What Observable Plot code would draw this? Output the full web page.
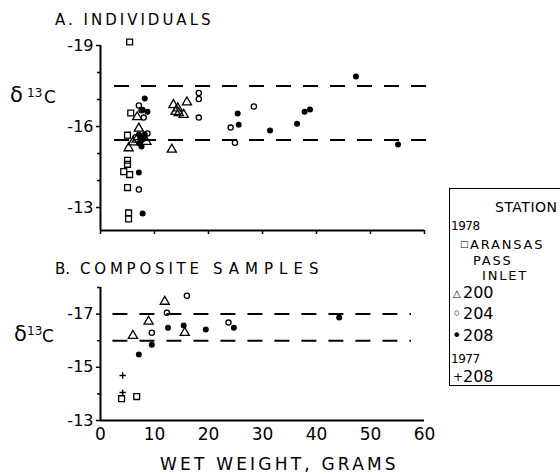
<!DOCTYPE html>
<html><head><meta charset="utf-8">
<script src="https://cdn.jsdelivr.net/npm/d3@7"></script>
<script src="https://cdn.jsdelivr.net/npm/@observablehq/plot@0.6"></script>
<style>
body{margin:0;background:#fff;}
#wrap{position:relative;width:560px;height:474px;overflow:hidden;font-family:"DejaVu Sans",sans-serif;color:#000;background:#fff;}
.t{position:absolute;white-space:nowrap;line-height:1;}
#pa,#pb{position:absolute;left:0;}
#pa{top:0}#pb{top:240px}
#box{position:absolute;left:449px;top:188px;width:130px;height:196px;border:1px solid #000;}
</style></head><body>
<div id="wrap">
<div id="pa"></div><div id="pb"></div>
<div class="t" style="left:55px;top:13px;font-size:15px;letter-spacing:3px">A.&nbsp;INDIVIDUALS</div>
<div class="t" style="left:55px;top:262px;font-size:15px;">B.</div>
<div class="t" style="left:80px;top:262px;font-size:15px;letter-spacing:3.8px">COMPOSITE</div>
<div class="t" style="left:213px;top:262px;font-size:15px;letter-spacing:6px">SAMPLES</div>
<div class="t" style="left:160px;top:456px;font-size:17px;letter-spacing:3.2px">WET WEIGHT, GRAMS</div>
<div class="t" style="left:10px;top:85px;font-size:21px">δ</div>
<div class="t" style="left:27px;top:87px;font-size:12px">13</div>
<div class="t" style="left:44px;top:89px;font-size:17px">C</div>
<div class="t" style="left:14px;top:324px;font-size:21px">δ</div>
<div class="t" style="left:27px;top:325px;font-size:12px">13</div>
<div class="t" style="left:42px;top:328px;font-size:17px">C</div>
<div id="box"></div>
<div class="t" style="left:495px;top:200px;font-size:14px;letter-spacing:0.5px">STATION</div>
<div class="t" style="left:451px;top:220px;font-size:12px;letter-spacing:-0.5px">1978</div>
<div class="t" style="left:460px;top:240px;font-size:9px">□</div>
<div class="t" style="left:470px;top:238px;font-size:13px;letter-spacing:1.8px">ARANSAS</div>
<div class="t" style="left:473px;top:254px;font-size:13px;letter-spacing:1.8px">PASS</div>
<div class="t" style="left:482px;top:269px;font-size:13px;letter-spacing:1.8px">INLET</div>
<div class="t" style="left:453px;top:289px;font-size:10px">△</div>
<div class="t" style="left:463px;top:285px;font-size:16px">200</div>
<div class="t" style="left:452px;top:306px;font-size:16px">◦</div>
<div class="t" style="left:463px;top:306px;font-size:16px">204</div>
<div class="t" style="left:452px;top:328px;font-size:16px">•</div>
<div class="t" style="left:463px;top:328px;font-size:16px">208</div>
<div class="t" style="left:451px;top:353px;font-size:12px;letter-spacing:-0.5px">1977</div>
<div class="t" style="left:453px;top:371px;font-size:12px">+</div>
<div class="t" style="left:463px;top:369px;font-size:16px">208</div>
</div>
<script>
// ---- Panel A: individuals  [wet weight g, d13C]
const aAransas = [[5.4,-19.13],[5.6,-16.5],[5.0,-15.68],[5.0,-14.75],[5.0,-14.6],[4.3,-14.33],[5.4,-14.22],[5.0,-13.74],[5.2,-12.8],[5.2,-12.58]];
const aSt200 = [[6.8,-16.35],[7.1,-15.93],[6.7,-15.52],[8.5,-15.44],[6.0,-15.42],[5.2,-15.2],[13.5,-16.8],[14.3,-16.68],[13.9,-16.55],[14.5,-16.5],[15.4,-16.44],[16.0,-16.9],[13.2,-15.15]];
const aSt204 = [[7.1,-16.78],[7.6,-16.6],[8.0,-16.33],[8.7,-15.74],[6.5,-15.6],[7.1,-13.67],[18.2,-17.24],[18.2,-17.02],[18.2,-16.33],[24.1,-15.96],[28.4,-16.74],[24.9,-15.4]];
const aSt208 = [[8.2,-17.04],[8.7,-16.55],[7.8,-16.62],[7.1,-15.7],[7.6,-15.63],[8.2,-15.7],[7.4,-15.48],[8.0,-15.55],[7.6,-15.26],[7.2,-15.37],[7.1,-14.3],[7.8,-12.78],[25.4,-16.48],[25.6,-16.07],[31.4,-15.85],[36.4,-16.1],[37.8,-16.55],[38.8,-16.63],[47.3,-17.85],[55.1,-15.33]];
// ---- Panel B: composite samples
const bAransas = [[3.9,-13.82],[6.7,-13.9]];
const bSt200 = [[6.0,-16.19],[8.9,-16.72],[11.9,-17.47],[15.6,-16.3]];
const bSt204 = [[9.5,-16.3],[12.3,-17.05],[16.0,-17.69],[23.7,-16.68]];
const bSt208 = [[7.1,-15.48],[9.5,-15.85],[12.5,-16.49],[15.4,-16.57],[19.5,-16.42],[24.7,-16.49],[44.2,-16.87]];
const b1977St208 = [[4.1,-14.69],[4.1,-14.05]];
// ---- axes / reference lines
const xDomain = [0, 60];
const xTicks = [0, 10, 20, 30, 40, 50, 60];
const yDomainA = [-19, -12.15];
const yTicksA = [-19, -16, -13];
const yMinorA = [-18, -17, -15, -14];
const refA = [-17.5, -15.5];
const refAExtent = [2.6, 60.4];
const yDomainB = [-18, -13];
const yTicksB = [-17, -15, -13];
const yMinorB = [-18, -16, -14];
const refB = [-17, -16];
const refBExtent = [2.3, 57.6];

const fmt = d => "-" + Math.abs(d);
const X = d => d[0], Y = d => d[1];
function dots(a200, a204, a208, aAr, a77) {
  const m = [
    Plot.dot(aAr, {x: X, y: Y, symbol: "square", r: 3.3, stroke: "black", fill: "none", strokeWidth: 1.3}),
    Plot.dot(a200, {x: X, y: Y, symbol: "triangle", r: 3.4, stroke: "black", fill: "none", strokeWidth: 1.3}),
    Plot.dot(a204, {x: X, y: Y, symbol: "circle", r: 2.6, stroke: "black", fill: "none", strokeWidth: 1.3}),
    Plot.dot(a208, {x: X, y: Y, symbol: "circle", r: 3, fill: "black", stroke: "none"})
  ];
  if (a77) m.push(Plot.dot(a77, {x: X, y: Y, symbol: "plus", r: 2.2, stroke: "black", strokeWidth: 1.4}));
  return m;
}
const style = {fontFamily: "DejaVu Sans", color: "#000", background: "white", overflow: "visible"};

const pa = Plot.plot({
  width: 560, height: 240,
  marginLeft: 100, marginRight: 136, marginTop: 45, marginBottom: 10,
  x: {domain: xDomain},
  y: {domain: yDomainA, reverse: true},
  style,
  marks: [
    Plot.axisY({ticks: yTicksA, tickSize: 4, tickPadding: 3, fontSize: 16, tickFormat: fmt, label: null, strokeWidth: 1.5}),
    Plot.axisY({ticks: yMinorA, tickSize: 3, tickFormat: () => "", label: null, strokeWidth: 1.5}),
    Plot.axisX({ticks: xTicks, tickSize: 4, tickFormat: () => "", label: null, strokeWidth: 1.5}),
    Plot.ruleX([xDomain[0]], {strokeWidth: 2}),
    Plot.ruleY([yDomainA[1]], {strokeWidth: 2}),
    Plot.ruleY(refA, {x1: refAExtent[0], x2: refAExtent[1], strokeWidth: 2, strokeDasharray: "15,12"}),
    ...dots(aSt200, aSt204, aSt208, aAransas, null)
  ]
});
document.getElementById("pa").append(pa);

const pb = Plot.plot({
  width: 560, height: 234,
  marginLeft: 100, marginRight: 136, marginTop: 47, marginBottom: 54,
  x: {domain: xDomain},
  y: {domain: yDomainB, reverse: true},
  style,
  marks: [
    Plot.axisY({ticks: yTicksB, tickSize: 4, tickPadding: 3, fontSize: 16, tickFormat: fmt, label: null, strokeWidth: 1.5}),
    Plot.axisY({ticks: yMinorB, tickSize: 3, tickFormat: () => "", label: null, strokeWidth: 1.5}),
    Plot.axisX({ticks: xTicks, tickSize: 0, tickPadding: 7, fontSize: 17, tickFormat: d => String(d), label: null}),
    Plot.ruleX([xDomain[0]], {strokeWidth: 2}),
    Plot.ruleY([yDomainB[1]], {strokeWidth: 2}),
    Plot.ruleY(refB, {x1: refBExtent[0], x2: refBExtent[1], strokeWidth: 2, strokeDasharray: "15,12"}),
    ...dots(bSt200, bSt204, bSt208, bAransas, b1977St208)
  ]
});
document.getElementById("pb").append(pb);
</script>
</body></html>
